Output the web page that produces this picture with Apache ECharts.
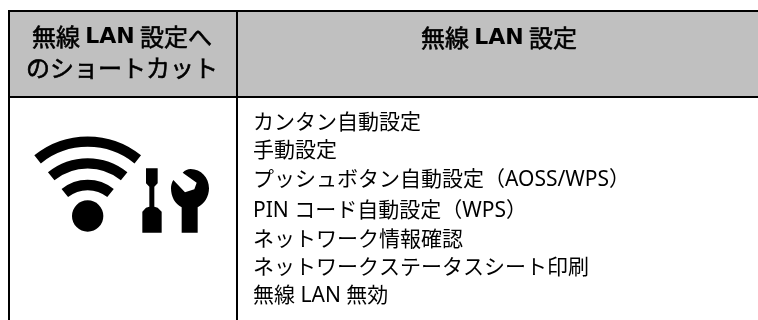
<!DOCTYPE html>
<html><head><meta charset="utf-8">
<style>html,body{margin:0;padding:0;background:#fff}#c{width:758px;height:320px}</style>
<script src="https://cdn.jsdelivr.net/npm/echarts@6/dist/echarts.min.js"></script>
</head><body><div id="c"></div>
<script>
const headerLeftLines = [['無線 ','LAN',' 設定へ'],['のショートカット']];
const headerRightLines = [['無線 ','LAN',' 設定']];
const menuItems = ['カンタン自動設定','手動設定','プッシュボタン自動設定（AOSS/WPS）','PIN コード自動設定（WPS）','ネットワーク情報確認','ネットワークステータスシート印刷','無線 LAN 無効'];
const FONT = '"Noto Sans","Noto Sans CJK JP",sans-serif';
const CJK = '"Noto Sans CJK JP"';
function headerText(parts, x, y){
  const rich = {
    b:{fontFamily:'"DejaVu Sans"',fontWeight:'bold',fontSize:22,fill:'#000'},
    n:{fontFamily:CJK,fontWeight:'normal',fontSize:24,fill:'#000',stroke:'#000',lineWidth:0.6}
  };
  const s = parts.map(p => (p==='LAN'?'{b|':'{n|')+p+'}').join('');
  return {type:'text',x,y,style:{text:s,rich,align:'center',verticalAlign:'middle',fill:'#000'}};
}
echarts.graphic.registerShape('wrench',echarts.graphic.extendPath('M485 338L485 262C465 252 453 230 453 205C453 197 455 188 460 180L495 217L523 208L530 188L488 158C495 151 503 147 512 147C543 147 567 173 567 205C567 230 553 252 533 262L533 338Z',{}));
const els = [];
els.push({type:'rect',shape:{x:9.5,y:11.5,width:760,height:85.5},style:{fill:'#c0c0c0'}});
const line=(x1,y1,x2,y2)=>({type:'line',shape:{x1,y1,x2,y2},style:{stroke:'#000',lineWidth:2}});
els.push(line(8,11,758,11),line(8,97,758,97),line(9,10,9,320),line(237,10,237,320));
headerLeftLines.forEach((l,i)=>els.push(headerText(l,122,37+i*31)));
headerRightLines.forEach((l,i)=>els.push(headerText(l,499,38+i*31)));
menuItems.forEach((t,i)=>els.push({type:'text',x:253,y:123+i*28.4+(i>=3?3:0),style:{text:t,fontFamily:FONT,fontSize:21,fill:'#000',align:'left',verticalAlign:'middle'}}));
const arc=(r)=>({type:'arc',shape:{cx:203,cy:304,r,startAngle:-Math.PI/2-0.68,endAngle:-Math.PI/2+0.68},style:{stroke:'#000',fill:null,lineWidth:31,lineCap:'butt'}});
const icon={type:'group',x:20,y:120,scaleX:1/3,scaleY:1/3,children:[
  arc(239),arc(174),arc(109),
  {type:'circle',shape:{cx:203,cy:288,r:47},style:{fill:'#000'}},
  {type:'polygon',shape:{points:[[378,145],[413,145],[413,190],[403,200],[403,260],[413,263],[425,275],[425,338],[367,338],[367,275],[378,263],[388,260],[388,200],[378,190]]},style:{fill:'#000'}},
  {type:'wrench',style:{fill:'#000'}}
]};
els.push(icon);
const chart=echarts.init(document.getElementById('c'),null,{renderer:'canvas'});
chart.setOption({animation:false,backgroundColor:'#fff',graphic:{elements:els}});
</script></body></html>
